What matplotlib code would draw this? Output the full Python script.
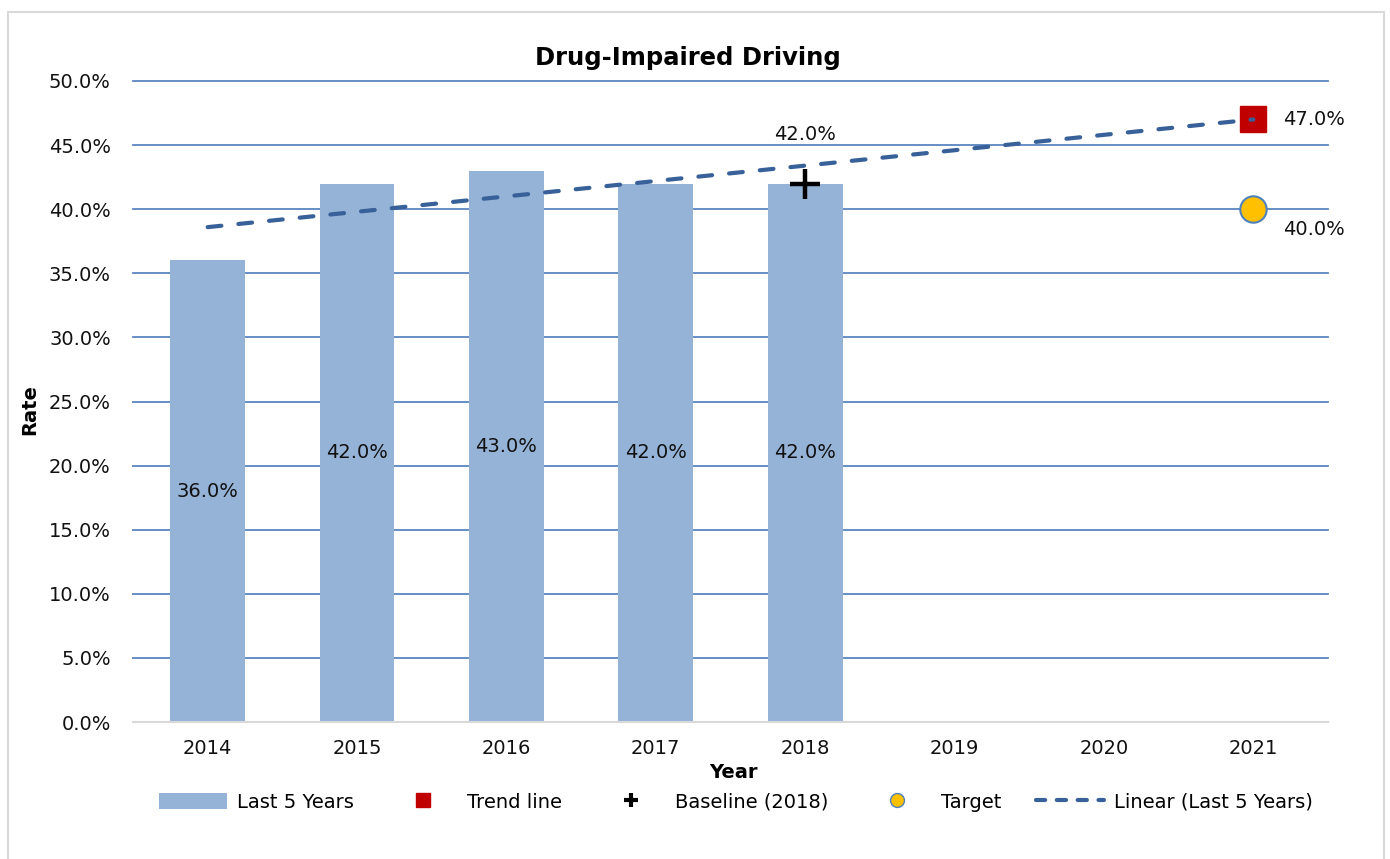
import matplotlib
matplotlib.use("Agg")
import matplotlib.pyplot as plt
from matplotlib.patches import Rectangle
from matplotlib.lines import Line2D
from matplotlib.patches import Patch

plt.rcParams['font.family'] = ['DejaVu Sans']

years = ['2014', '2015', '2016', '2017', '2018', '2019', '2020', '2021']
last5_years = ['2014', '2015', '2016', '2017', '2018']
last5_values = [36.0, 42.0, 43.0, 42.0, 42.0]
trend_year = '2021'
trend_value = 47.0
baseline_year = '2018'
baseline_value = 42.0
target_year = '2021'
target_value = 40.0
linear_years = ['2014', '2021']
linear_values = [38.6, 47.0]
yticks = [0, 5, 10, 15, 20, 25, 30, 35, 40, 45, 50]

W, H = 1390, 859
fig = plt.figure(figsize=(W / 100, H / 100), dpi=100)
fig.patches.append(Rectangle((8 / W, -0.01), (1384 - 8) / W, 1 - 12 / H + 0.01,
                             transform=fig.transFigure, fill=False,
                             edgecolor='#d9d9d9', linewidth=1.5))

ax = fig.add_axes([133 / W, 1 - 722 / H, (1328 - 133) / W, (722 - 81) / H])
xpos = {y: i for i, y in enumerate(years)}

bar_color = '#95b3d7'
bx = [xpos[y] for y in last5_years]
ax.bar(bx, last5_values, width=0.5, color=bar_color, zorder=2)
for x, v in zip(bx, last5_values):
    ax.text(x, v / 2, f'{v:.1f}%', ha='center', va='center', fontsize=14, color='#111111', zorder=5)

lin_x = [xpos[y] for y in linear_years]
ax.plot(lin_x, linear_values, color='#386199', lw=3, dashes=(3.3, 4.1),
        dash_capstyle='round', zorder=4)

ax.plot([xpos[trend_year]], [trend_value], marker='s', ms=19, color='#c00000',
        linestyle='none', zorder=3)
ax.text(xpos[trend_year] + 0.2, trend_value, f'{trend_value:.1f}%', ha='left',
        va='center', fontsize=14, color='#111111')

ax.plot([xpos[baseline_year]], [baseline_value], marker='+', ms=22, mew=3.2,
        color='black', linestyle='none', zorder=5)
ax.text(xpos[baseline_year], baseline_value + 3.8, f'{baseline_value:.1f}%',
        ha='center', va='center', fontsize=14, color='#111111')

ax.plot([xpos[target_year]], [target_value], marker='o', ms=19, color='#ffc000',
        markeredgecolor='#4f81bd', mew=1.5, linestyle='none', zorder=5)
ax.text(xpos[target_year] + 0.2, target_value - 1.6, f'{target_value:.1f}%',
        ha='left', va='center', fontsize=14, color='#111111')

ax.set_xlim(-0.5, len(years) - 0.5)
ax.set_ylim(0, 50)
ax.set_yticks(yticks)
ax.set_yticklabels([f'{t:.1f}%' for t in yticks], fontsize=14, color='#111111')
ax.set_xticks(range(len(years)))
ax.set_xticklabels(years, fontsize=14, color='#111111')
ax.tick_params(length=0, pad=12)
ax.tick_params(axis='y', pad=16)
for t in yticks[1:]:
    ax.axhline(t, color='#5b86c0', lw=1.3, zorder=1, clip_on=False)
for s in ['top', 'right', 'left']:
    ax.spines[s].set_visible(False)
ax.spines['bottom'].set_color('#d9d9d9')
ax.spines['bottom'].set_linewidth(1.5)

fig.text(688 / W, 1 - 58 / H, 'Drug-Impaired Driving', ha='center', va='center',
         fontsize=17.5, fontweight='bold')
fig.text(30 / W, 1 - 410 / H, 'Rate', ha='center', va='center', rotation=90,
         fontsize=14, fontweight='bold')
fig.text(733 / W, 1 - 773 / H, 'Year', ha='center', va='center',
         fontsize=14, fontweight='bold')

handles = [
    Patch(facecolor=bar_color, edgecolor='none'),
    Line2D([], [], marker='s', ms=10, color='#c00000', linestyle='none'),
    Line2D([], [], marker='+', ms=10, mew=3, color='black', linestyle='none'),
    Line2D([], [], marker='o', ms=10, color='#ffc000', markeredgecolor='#4f81bd', linestyle='none'),
    Line2D([], [], color='#386199', lw=3, dashes=(2.2, 2.8), dash_capstyle='round'),
]
labels = ['Last 5 Years', 'Trend line', 'Baseline (2018)', 'Target', 'Linear (Last 5 Years)']
fig.legend(handles, labels, loc='center', bbox_to_anchor=(736 / W, 1 - 802 / H),
           ncol=5, frameon=False, fontsize=14, handlelength=3.5, handleheight=0.9,
           columnspacing=1.8, handletextpad=0.5)

fig.savefig('out.png', dpi=100)
